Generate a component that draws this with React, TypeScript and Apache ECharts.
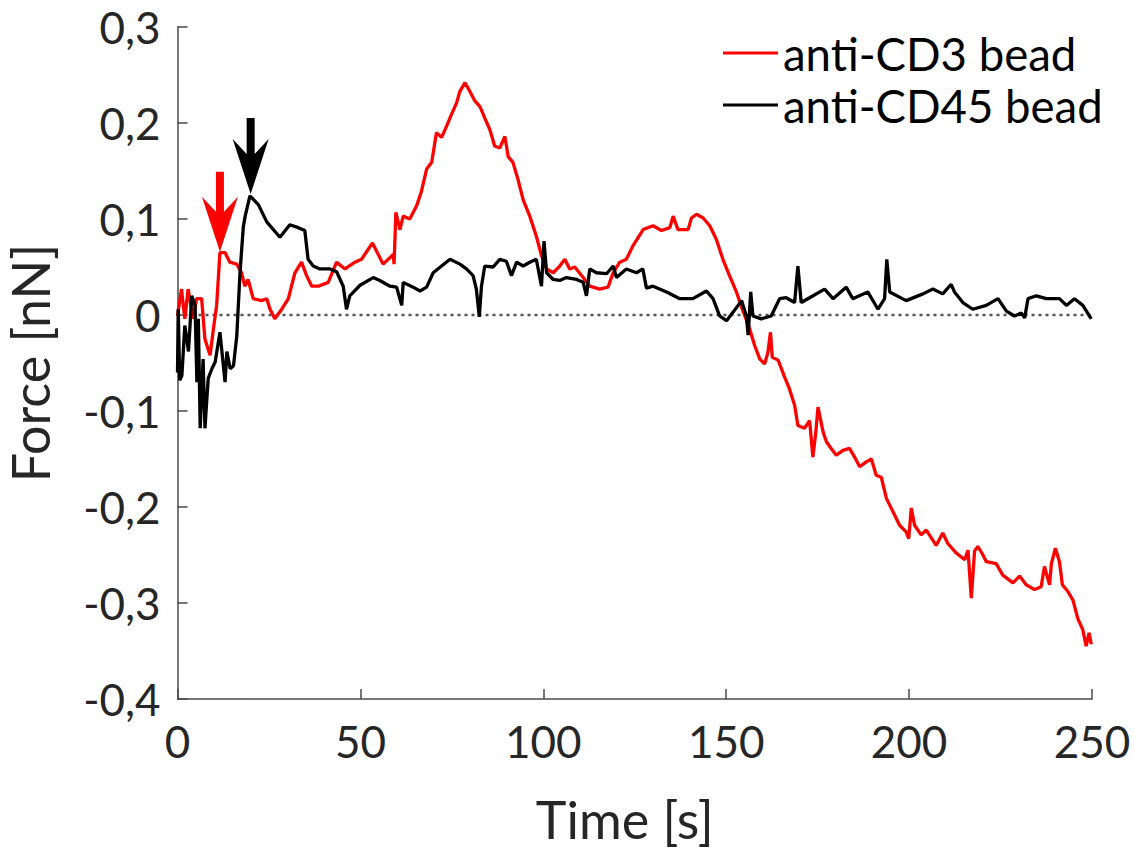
import React, { useEffect, useRef } from "react";
import * as echarts from "echarts";

const cd3Time = [0, 1.1, 2.0, 2.9, 4.3, 5.2, 6.6, 7.5, 8.9, 9.8, 10.7, 11.6, 13.0, 14.3, 16.2, 17.5, 18.4, 19.3, 20.7, 23.0, 24.4, 25.3, 26.6, 28.5, 30.3, 32.1, 33.9, 35.3, 36.7, 38.5, 41.2, 43.5, 45.8, 48.5, 50.3, 53.3, 56.2, 59.0, 59.2, 59.7, 60.8, 61.7, 63.5, 65.4, 66.7, 68.1, 69.5, 70.8, 72.2, 73.6, 74.9, 76.3, 77.2, 78.6, 79.9, 81.3, 82.7, 84.0, 85.4, 86.7, 88.1, 89.5, 90.4, 91.7, 93.1, 94.5, 96.3, 98.1, 99.5, 100.9, 102.7, 104.5, 105.9, 107.2, 108.6, 110.9, 112.7, 115.4, 117.7, 119.1, 120.9, 122.7, 124.5, 127.3, 130.0, 132.3, 134.6, 135.5, 136.8, 139.6, 140.5, 141.9, 143.7, 145.5, 147.3, 149.1, 150.9, 152.8, 154.4, 156.2, 157.8, 159.2, 160.5, 161.4, 162.1, 162.6, 164.2, 166.0, 167.3, 168.7, 169.6, 171.4, 172.8, 173.7, 174.5, 175.1, 176.5, 177.4, 178.7, 180.1, 181.9, 183.7, 185.1, 186.5, 188.3, 189.7, 191.0, 192.4, 193.8, 195.6, 197.4, 199.2, 199.9, 200.6, 201.5, 203.3, 204.7, 207.4, 209.2, 210.6, 212.9, 215.2, 216.1, 217.0, 217.9, 218.8, 220.2, 221.1, 223.8, 225.6, 228.4, 230.2, 232.0, 234.3, 236.1, 237.0, 238.4, 238.9, 240.0, 241.1, 241.9, 243.4, 244.8, 246.1, 247.5, 248.4, 249.2, 249.8];
const cd3Force = [-0.001, 0.027, -0.004, 0.027, -0.004, 0.017, 0.017, -0.025, -0.042, -0.015, 0.010, 0.065, 0.065, 0.055, 0.053, 0.044, 0.030, 0.037, 0.017, 0.015, 0.017, 0.006, -0.004, 0.006, 0.017, 0.044, 0.055, 0.041, 0.030, 0.030, 0.034, 0.055, 0.048, 0.055, 0.058, 0.075, 0.053, 0.063, 0.053, 0.107, 0.089, 0.103, 0.100, 0.114, 0.129, 0.152, 0.159, 0.190, 0.185, 0.197, 0.209, 0.221, 0.233, 0.242, 0.233, 0.223, 0.217, 0.205, 0.193, 0.176, 0.174, 0.186, 0.165, 0.159, 0.141, 0.120, 0.103, 0.082, 0.062, 0.048, 0.044, 0.051, 0.058, 0.048, 0.050, 0.039, 0.030, 0.027, 0.029, 0.044, 0.055, 0.058, 0.072, 0.089, 0.093, 0.088, 0.091, 0.103, 0.089, 0.089, 0.101, 0.105, 0.101, 0.093, 0.079, 0.058, 0.041, 0.024, 0.006, -0.012, -0.032, -0.046, -0.051, -0.039, -0.018, -0.044, -0.047, -0.065, -0.077, -0.094, -0.115, -0.118, -0.110, -0.148, -0.122, -0.096, -0.122, -0.132, -0.139, -0.146, -0.141, -0.139, -0.148, -0.158, -0.153, -0.150, -0.167, -0.169, -0.191, -0.205, -0.219, -0.226, -0.233, -0.201, -0.219, -0.229, -0.224, -0.240, -0.227, -0.238, -0.248, -0.255, -0.245, -0.295, -0.246, -0.241, -0.250, -0.257, -0.259, -0.271, -0.279, -0.272, -0.281, -0.286, -0.283, -0.262, -0.281, -0.259, -0.243, -0.257, -0.281, -0.288, -0.297, -0.316, -0.328, -0.345, -0.331, -0.343];

const cd45Time = [0, 0.2, 0.6, 1.2, 2.0, 3.0, 3.9, 4.8, 5.3, 5.7, 6.2, 7.0, 7.5, 8.4, 9.4, 10.3, 11.6, 13.0, 13.5, 14.4, 15.3, 16.2, 17.1, 18.0, 18.5, 19.8, 22.1, 24.4, 28.0, 30.7, 33.0, 34.8, 35.7, 37.1, 38.9, 41.7, 43.5, 45.3, 46.2, 47.1, 49.9, 53.5, 55.3, 58.1, 59.9, 61.3, 61.7, 64.4, 66.3, 68.1, 69.9, 72.2, 74.5, 77.2, 79.0, 80.8, 81.7, 82.5, 83.1, 84.0, 86.3, 88.1, 89.9, 91.3, 92.7, 94.5, 96.3, 98.1, 99.5, 100.2, 100.9, 102.7, 104.5, 106.3, 109.1, 110.9, 111.8, 112.7, 114.5, 117.3, 119.1, 120.0, 122.7, 125.5, 127.2, 128.2, 130.0, 133.7, 137.3, 140.9, 144.6, 146.4, 148.2, 150.1, 151.9, 154.2, 155.5, 156.0, 156.7, 157.3, 159.6, 162.3, 164.6, 166.4, 168.7, 169.6, 170.5, 172.8, 176.9, 179.2, 182.8, 184.6, 188.7, 191.5, 193.3, 193.9, 194.7, 199.2, 203.8, 206.5, 209.2, 211.5, 212.4, 214.7, 217.4, 221.1, 224.3, 226.6, 228.8, 230.7, 231.6, 232.5, 234.8, 237.5, 241.1, 243.0, 245.2, 247.5, 249.8];
const cd45Force = [-0.060, 0.006, -0.068, -0.063, -0.011, -0.038, 0.020, 0.010, -0.070, -0.004, -0.118, -0.046, -0.118, -0.066, -0.056, -0.049, -0.018, -0.070, -0.038, -0.056, -0.053, -0.022, 0.045, 0.092, 0.103, 0.124, 0.115, 0.097, 0.081, 0.094, 0.091, 0.088, 0.058, 0.051, 0.048, 0.048, 0.045, 0.030, 0.006, 0.020, 0.031, 0.039, 0.036, 0.030, 0.029, 0.010, 0.034, 0.029, 0.025, 0.029, 0.044, 0.051, 0.058, 0.053, 0.048, 0.041, 0.027, -0.002, 0.030, 0.051, 0.050, 0.058, 0.056, 0.041, 0.055, 0.051, 0.055, 0.058, 0.030, 0.077, 0.044, 0.037, 0.036, 0.039, 0.037, 0.034, 0.020, 0.048, 0.044, 0.043, 0.051, 0.039, 0.048, 0.044, 0.048, 0.028, 0.030, 0.024, 0.017, 0.017, 0.025, 0.017, -0.001, -0.006, 0.003, 0.015, -0.001, -0.021, 0.024, -0.001, -0.004, -0.001, 0.017, 0.018, 0.013, 0.051, 0.013, 0.018, 0.027, 0.017, 0.029, 0.017, 0.024, 0.006, 0.017, 0.058, 0.024, 0.015, 0.022, 0.027, 0.022, 0.032, 0.024, 0.013, 0.006, 0.010, 0.017, 0.004, -0.001, 0.002, -0.003, 0.017, 0.020, 0.017, 0.017, 0.010, 0.017, 0.010, -0.004];

const zeroLineTime = [0, 250];
const zeroLineForce = [0, 0];

// arrow tips [time, force]
const arrowCD3 = [11.6, 0.066];
const arrowCD45 = [20.0, 0.126];

const xTicks = [0, 50, 100, 150, 200, 250];
const yMin = -0.4;
const yMax = 0.3;

const seriesNames = ["anti-CD3 bead", "anti-CD45 bead"];

const pair = (t: number[], f: number[]) => t.map((x, i) => [x, f[i]]);

const FONT = "Lato, 'Open Sans', sans-serif";
const TEXT = "#262626";
const AXIS = "#4a4a4a";

const redArrowPath = "path://M-4,0 L4,0 L4,40 L18,25 L0,80 L-18,25 L-4,40 Z";
const blackArrowPath = "path://M-4,0 L4,0 L4,36 L18,21 L0,76 L-18,21 L-4,36 Z";

export default function App() {
  const ref = useRef<HTMLDivElement>(null);
  useEffect(() => {
    document.body.style.margin = "0";
    const chart = echarts.init(ref.current!, undefined, { renderer: "svg" });
    chart.setOption({
      animation: false,
      backgroundColor: "#ffffff",
      textStyle: { fontFamily: FONT },
      grid: { left: 177.5, right: 42, top: 27, bottom: 151, outerBoundsMode: "none" },
      legend: {
        data: seriesNames,
        orient: "vertical",
        left: 723,
        top: 30,
        padding: 0,
        icon: "rect",
        itemWidth: 55,
        itemHeight: 3,
        itemGap: 6,
        textStyle: { fontFamily: FONT, fontSize: 45.5, color: "#000", lineHeight: 45 },
        selectedMode: false,
      },
      xAxis: {
        type: "value",
        min: xTicks[0],
        max: xTicks[xTicks.length - 1],
        interval: 50,
        name: "Time [s]",
        nameLocation: "middle",
        nameGap: 94,
        nameTextStyle: { fontFamily: FONT, fontSize: 52, color: TEXT, padding: [0, 20, 0, 0] },
        axisLine: { show: true, onZero: false, lineStyle: { color: AXIS, width: 1.5 } },
        axisTick: { show: true, inside: true, length: 10, lineStyle: { color: AXIS, width: 1.5 } },
        axisLabel: { fontFamily: FONT, fontSize: 44, color: TEXT, margin: 20 },
        splitLine: { show: false },
      },
      yAxis: {
        type: "value",
        min: yMin,
        max: yMax,
        interval: 0.1,
        name: "Force [nN]",
        nameLocation: "middle",
        nameGap: 122,
        nameTextStyle: { fontFamily: FONT, fontSize: 52, color: TEXT },
        axisLine: { show: true, lineStyle: { color: AXIS, width: 1.5 } },
        axisTick: { show: true, inside: true, length: 10, lineStyle: { color: AXIS, width: 1.5 } },
        axisLabel: {
          fontFamily: FONT,
          fontSize: 44,
          color: TEXT,
          margin: 17,
          formatter: (v: number) => {
            const r = Math.round(v * 10) / 10;
            if (r === 0) return "0";
            return r.toFixed(1).replace(".", ",");
          },
        },
        splitLine: { show: false },
      },
      series: [
        {
          name: "zero",
          type: "line",
          data: pair(zeroLineTime, zeroLineForce),
          symbol: "none",
          silent: true,
          z: 1,
          lineStyle: { color: "#555", width: 2.5, type: [3, 4] },
        },
        {
          name: seriesNames[0],
          type: "line",
          data: pair(cd3Time, cd3Force),
          symbol: "none",
          z: 3,
          color: "#ff0000",
          lineStyle: { color: "#ff0000", width: 3.3 },
          markPoint: {
            silent: true,
            symbol: redArrowPath,
            symbolSize: [36, 80],
            symbolOffset: [0, -40],
            label: { show: false },
            itemStyle: { color: "#ff0000" },
            data: [{ coord: arrowCD3 }],
          },
        },
        {
          name: seriesNames[1],
          type: "line",
          data: pair(cd45Time, cd45Force),
          symbol: "none",
          z: 4,
          color: "#000000",
          lineStyle: { color: "#000000", width: 3.3 },
          markPoint: {
            silent: true,
            symbol: blackArrowPath,
            symbolSize: [36, 76],
            symbolOffset: [0, -38],
            label: { show: false },
            itemStyle: { color: "#000000" },
            data: [{ coord: arrowCD45 }],
          },
        },
      ],
    });
    return () => chart.dispose();
  }, []);
  return <div ref={ref} style={{ width: 1134, height: 850 }} />;
}
